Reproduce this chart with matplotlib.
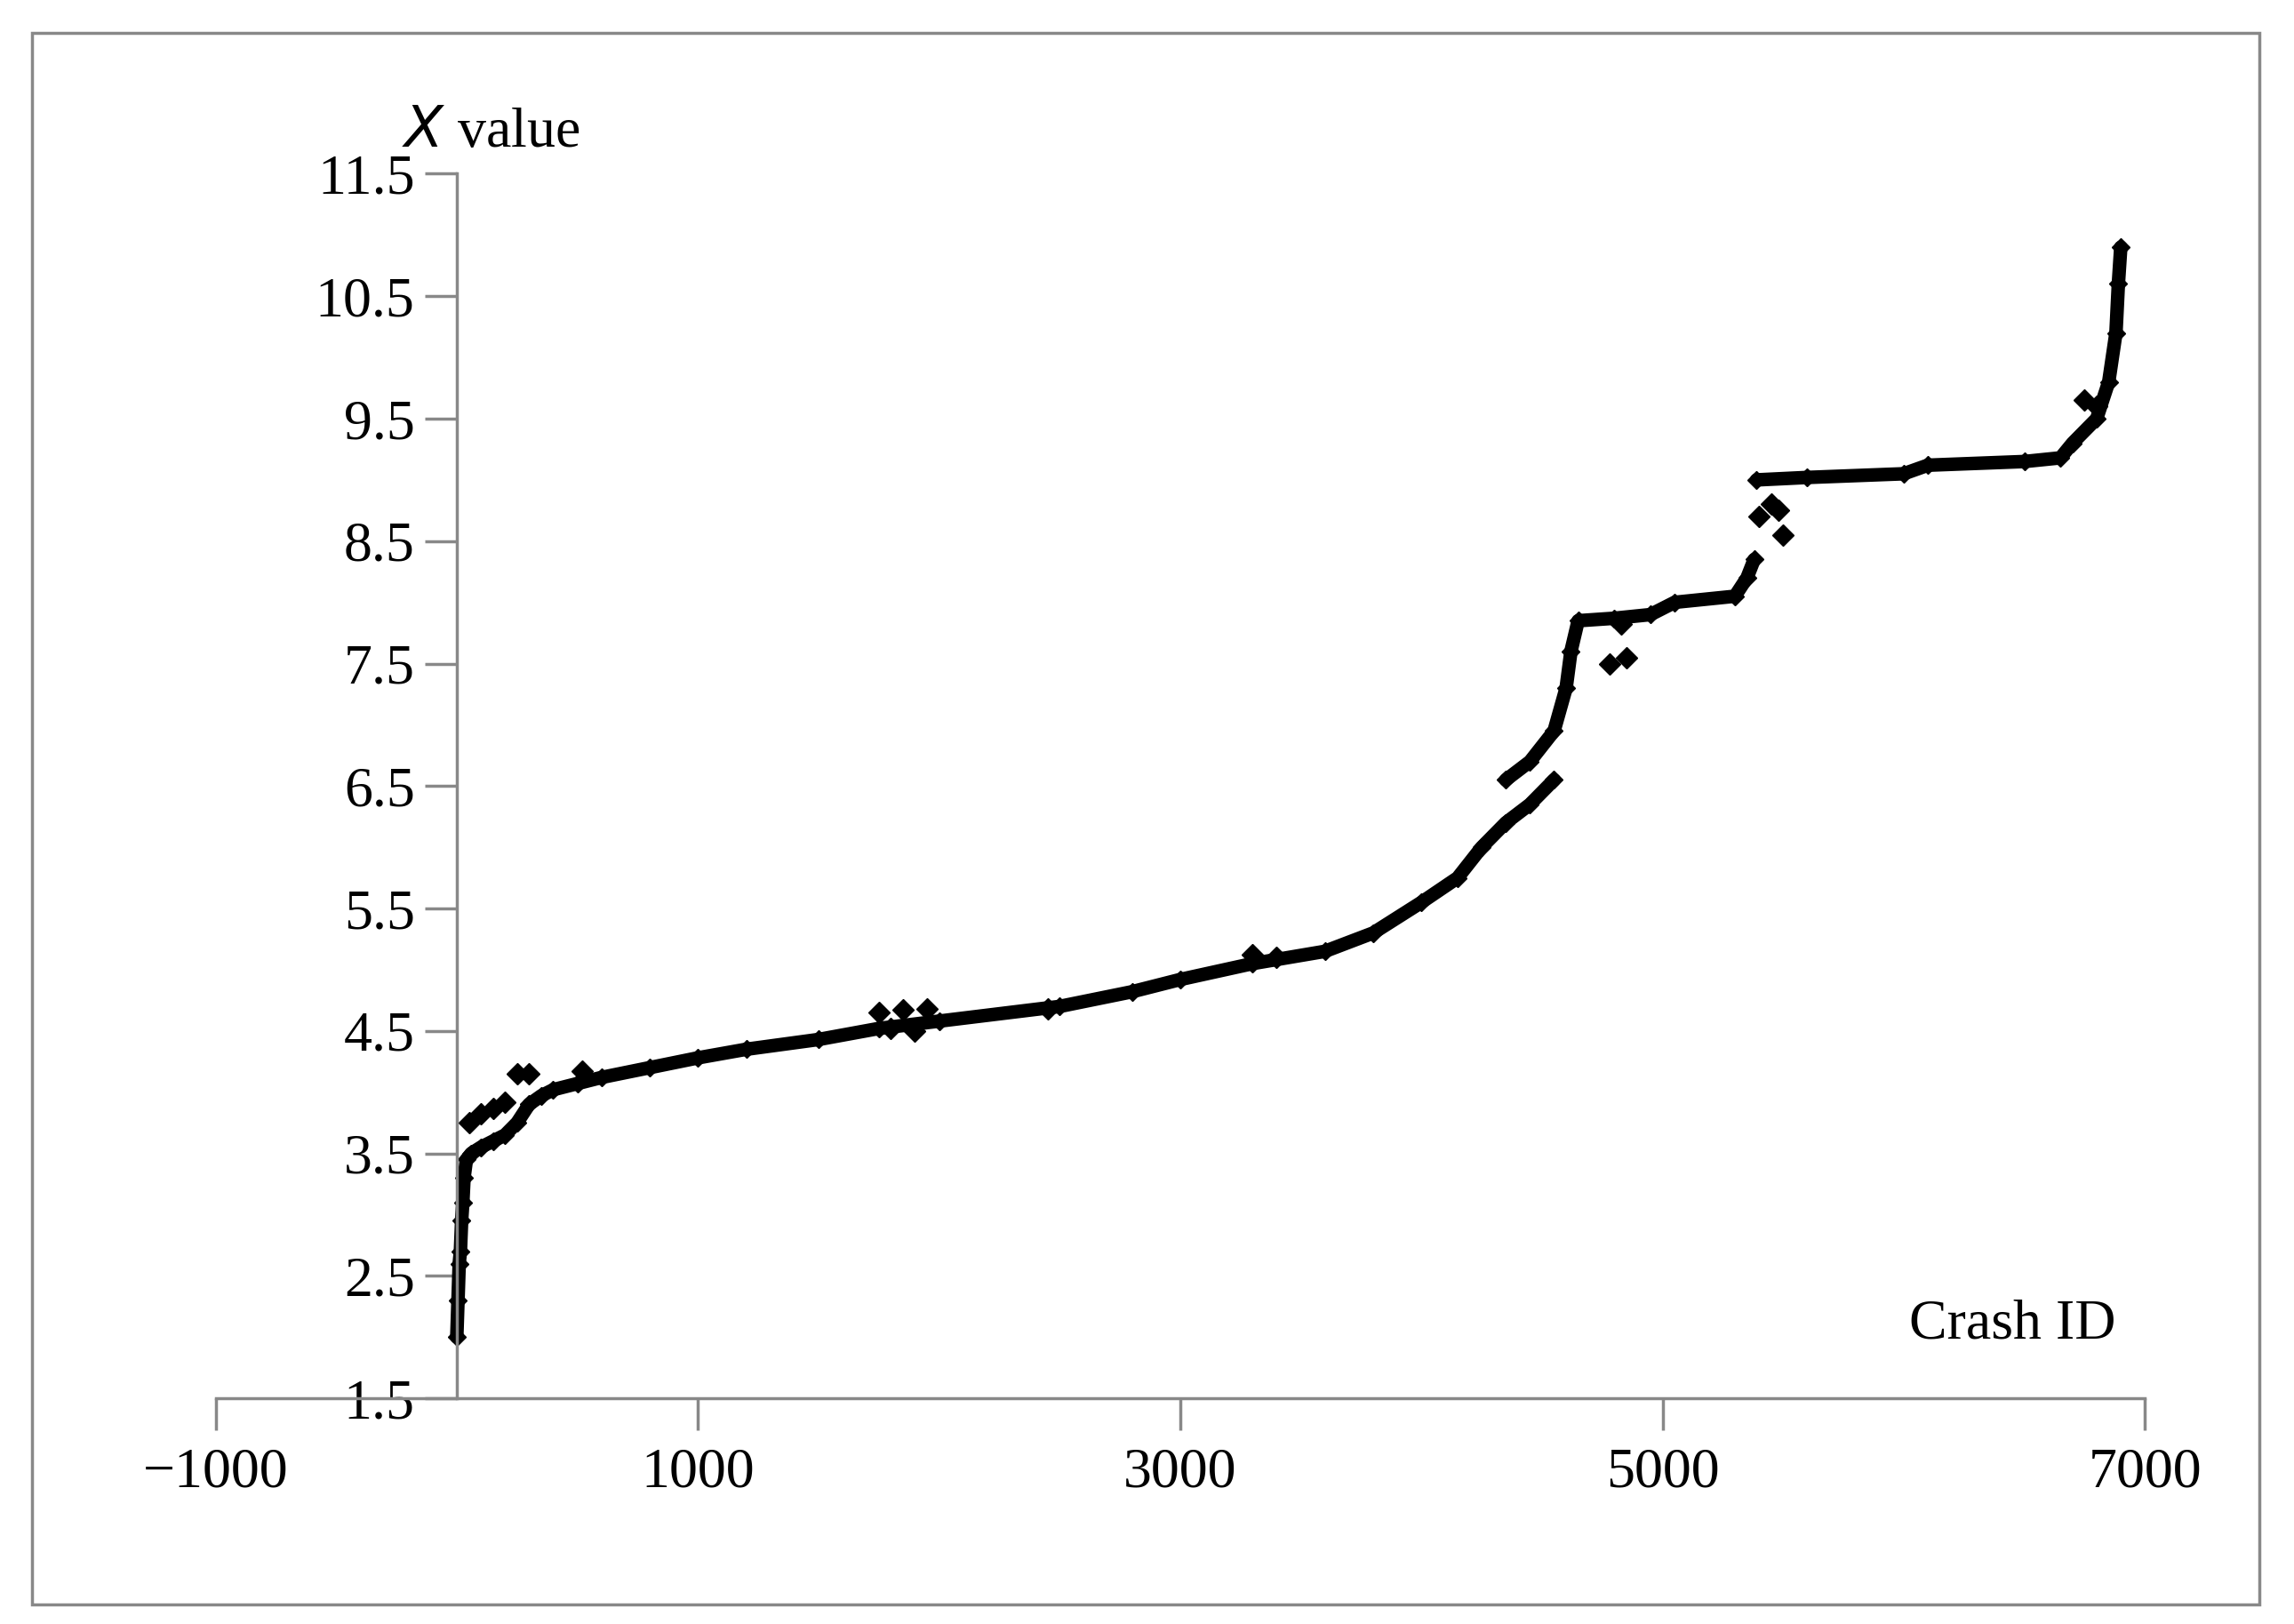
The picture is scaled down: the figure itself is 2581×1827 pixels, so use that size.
import numpy as np
import matplotlib.pyplot as plt
from matplotlib.patches import Rectangle

plt.rcParams['font.family'] = ['Liberation Serif', 'DejaVu Serif']

# main sorted curve (two branches around the 6.5 break)
main1_x = [0, 5, 10, 15, 20, 25, 30, 40, 60, 100, 150, 200, 250, 300, 350, 400, 500, 600, 800,
           1000, 1200, 1500, 1750, 2000, 2500, 2800, 3000, 3300, 3600, 3800, 4000, 4150, 4250,
           4350, 4450, 4550]
main1_y = [2.0, 2.3, 2.6, 2.7, 2.95, 3.1, 3.3, 3.45, 3.5, 3.55, 3.6, 3.65, 3.75, 3.9, 3.97, 4.02,
           4.07, 4.12, 4.2, 4.28, 4.35, 4.43, 4.52, 4.58, 4.7, 4.82, 4.92, 5.05, 5.15, 5.3, 5.55,
           5.75, 6.0, 6.2, 6.35, 6.55]
main2_x = [4350, 4450, 4550, 4600, 4620, 4650, 4800, 4950, 5050, 5300, 5350, 5380]
main2_y = [6.55, 6.7, 6.95, 7.3, 7.6, 7.85, 7.87, 7.9, 8.0, 8.05, 8.2, 8.35]
main3_x = [5390, 5600, 6000, 6100, 6500, 6650, 6700, 6800, 6850, 6880, 6890, 6900]
main3_y = [9.0, 9.02, 9.05, 9.12, 9.15, 9.18, 9.3, 9.5, 9.8, 10.2, 10.6, 10.9]

# scattered offset points
stray_x = [50, 100, 150, 200, 250, 300, 520, 1750, 1850, 1950, 1800, 1900, 2450,
           3300, 3400, 4780, 4850, 4830, 5400, 5450, 5500, 5480, 6750, 6800]
stray_y = [3.75, 3.82, 3.87, 3.92, 4.15, 4.15, 4.17, 4.65, 4.67, 4.68, 4.52, 4.5, 4.68,
           5.12, 5.1, 7.5, 7.55, 7.82, 8.7, 8.8, 8.55, 8.75, 9.65, 9.6]

fig = plt.figure(figsize=(25.81, 18.27), dpi=100)
ax = fig.add_axes([0.094, 0.139, 0.841, 0.754])

for xs, ys in [(main1_x, main1_y), (main2_x, main2_y), (main3_x, main3_y)]:
    ax.plot(xs, ys, '-', color='black', linewidth=11, solid_capstyle='round')
    ax.plot(xs, ys, 'D', color='black', markersize=10)
ax.plot(stray_x, stray_y, 'D', color='black', markersize=12, linestyle='none')

ax.set_xlim(-1000, 7000)
ax.set_ylim(1.5, 11.5)
ax.set_xticks([-1000, 1000, 3000, 5000, 7000])
ax.set_yticks(np.arange(1.5, 11.6, 1.0))
ax.set_yticklabels([f"{v:.1f}" for v in np.arange(1.5, 11.6, 1.0)])
ax.spines['left'].set_position(('data', 0))
ax.spines['right'].set_visible(False)
ax.spines['top'].set_visible(False)
for s in ['left', 'bottom']:
    ax.spines[s].set_color('#888888')
    ax.spines[s].set_linewidth(2.5)
ax.tick_params(axis='both', direction='out', length=26, width=2.5, color='#888888',
               labelsize=46, pad=8)
ax.tick_params(axis='x', pad=14)

ax.text(-230, 11.83, r'$\it{X}$ value', fontsize=46, ha='left', va='center')
ax.text(6880, 2.1, 'Crash ID', fontsize=46, ha='right', va='center')

fig.patches.append(Rectangle((0.014, 0.012), 0.971, 0.968, transform=fig.transFigure,
                             fill=False, edgecolor='#888888', linewidth=2.5))

fig.savefig('out.png', dpi=100)
